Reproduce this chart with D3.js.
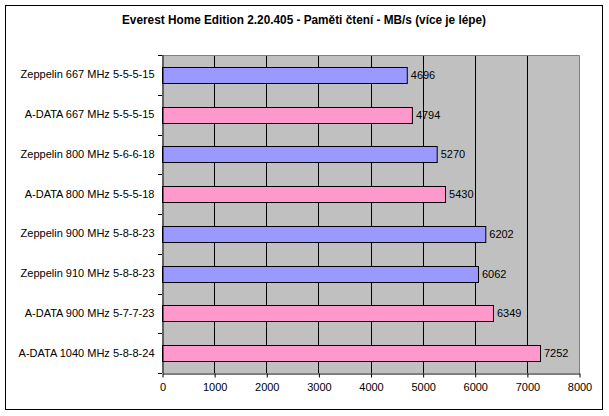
<!DOCTYPE html>
<html><head><meta charset="utf-8">
<script src="https://cdn.jsdelivr.net/npm/d3@7"></script>
<style>body{margin:0;background:#fff}svg{display:block}text{font-family:"Liberation Sans",Arial,sans-serif}</style>
</head><body>
<script>
const categories = ["Zeppelin 667 MHz 5-5-5-15","A-DATA 667 MHz 5-5-5-15","Zeppelin 800 MHz 5-6-6-18","A-DATA 800 MHz 5-5-5-18","Zeppelin 900 MHz 5-8-8-23","Zeppelin 910 MHz 5-8-8-23","A-DATA 900 MHz 5-7-7-23","A-DATA 1040 MHz 5-8-8-24"];
const values = [4696,4794,5270,5430,6202,6062,6349,7252];
const brands = ["Zeppelin","A-DATA","Zeppelin","A-DATA","Zeppelin","Zeppelin","A-DATA","A-DATA"];
const xTicks = [0,1000,2000,3000,4000,5000,6000,7000,8000];
const title = "Everest Home Edition 2.20.405 - Paměti čtení - MB/s (více je lépe)";

const W=609,H=416;
const svg=d3.select("body").append("svg").attr("width",W).attr("height",H);
svg.append("rect").attr("x",5.5).attr("y",5.5).attr("width",597).attr("height",404).attr("fill","#fff").attr("stroke","#000").attr("stroke-width",1);

const L=162,R=579,T=55,B=373;
const x=d3.scaleLinear().domain([0,8000]).range([L,R]);
const y=d3.scaleBand().domain(categories).range([T,B]).paddingInner(0).paddingOuter(0);
const color=d3.scaleOrdinal().domain(["Zeppelin","A-DATA"]).range(["#9999FF","#FF99CC"]);

svg.append("rect").attr("x",L).attr("y",T).attr("width",R-L).attr("height",B-T).attr("fill","#C0C0C0");
// gridlines
svg.append("g").selectAll("line").data(xTicks.slice(1,-1)).join("line")
  .attr("x1",d=>Math.round(x(d))+0.5).attr("x2",d=>Math.round(x(d))+0.5).attr("y1",T).attr("y2",B).attr("stroke","#000");
// plot border top/right
svg.append("path").attr("d",`M${L},${T+0.5}H${R+0.5}V${B}`).attr("fill","none").attr("stroke","#808080");

const bh=16;
svg.append("g").selectAll("rect").data(values).join("rect")
  .attr("x",L+0.5).attr("y",(d,i)=>Math.round(y(categories[i])+y.bandwidth()/2-bh/2)+0.5)
  .attr("width",d=>x(d)-L).attr("height",bh)
  .attr("fill",(d,i)=>color(brands[i])).attr("stroke","#000");
svg.append("g").selectAll("text").data(values).join("text")
  .attr("x",d=>x(d)+4).attr("y",(d,i)=>y(categories[i])+y.bandwidth()/2+4)
  .attr("font-size",11).attr("fill","#000").text(d=>d);

// y axis
const ya=svg.append("g").attr("transform",`translate(${L+0.5},0)`)
  .call(d3.axisLeft(y).tickSize(0).tickPadding(8));
ya.select(".domain").attr("stroke","#000");
ya.selectAll("text").attr("font-size",11).attr("fill","#000").attr("font-family","'Liberation Sans',Arial,sans-serif");
svg.append("g").selectAll("line").data(d3.range(categories.length+1)).join("line")
  .attr("x1",L-4).attr("x2",L).attr("y1",i=>Math.round(T+i*y.bandwidth())+0.5).attr("y2",i=>Math.round(T+i*y.bandwidth())+0.5).attr("stroke","#000");

// x axis
const xa=svg.append("g").attr("transform",`translate(0.5,${B+0.5})`)
  .call(d3.axisBottom(x).tickValues(xTicks).tickFormat(d3.format("d")).tickSize(4).tickPadding(6).tickSizeOuter(0));
xa.select(".domain").attr("stroke","#000");
xa.selectAll("line").attr("stroke","#000");
xa.selectAll("text").attr("font-size",11).attr("fill","#000").attr("font-family","'Liberation Sans',Arial,sans-serif");

svg.append("text").attr("x",304).attr("y",24).attr("text-anchor","middle")
  .attr("font-size",12).attr("font-weight","bold").attr("textLength",364).attr("lengthAdjust","spacingAndGlyphs").text(title);
</script>
</body></html>
